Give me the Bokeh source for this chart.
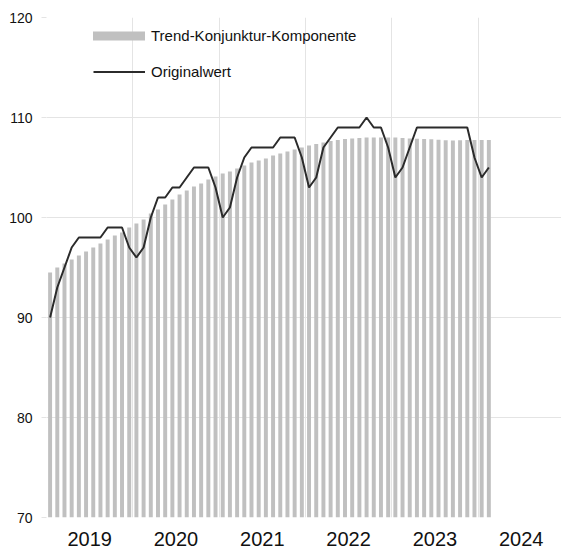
from bokeh.plotting import figure
from bokeh.models import FixedTicker, Legend, LegendItem, ColumnDataSource, Range1d
from bokeh.embed import file_html
from bokeh.resources import INLINE

# ---- data (monthly, Jan 2019 .. Feb 2024) ----
years = ["2019", "2020", "2021", "2022", "2023", "2024"]
trend = [
    94.5, 95.0, 95.4, 95.8, 96.2, 96.6, 97.0, 97.4, 97.8, 98.2, 98.5, 99.0,
    99.4, 99.8, 100.4, 100.8, 101.3, 101.8, 102.3, 102.7, 103.1, 103.4, 103.8, 104.1,
    104.4, 104.6, 104.9, 105.2, 105.5, 105.7, 105.9, 106.2, 106.4, 106.6, 106.8, 107.0,
    107.2, 107.35, 107.5, 107.65, 107.75, 107.85, 107.9, 107.95, 108.0, 108.0, 108.0, 108.0,
    108.0, 107.95, 107.9, 107.87, 107.85, 107.83, 107.77, 107.73, 107.7, 107.73, 107.75, 107.75,
    107.75, 107.75,
]
original = [
    90, 93, 95, 97, 98, 98, 98, 98, 99, 99, 99, 97,
    96, 97, 100, 102, 102, 103, 103, 104, 105, 105, 105, 103,
    100, 101, 104, 106, 107, 107, 107, 107, 108, 108, 108, 106,
    103, 104, 107, 108, 109, 109, 109, 109, 110, 109, 109, 107,
    104, 105, 107, 109, 109, 109, 109, 109, 109, 109, 109, 106,
    104, 105,
]
year_starts = [0, 12, 24, 36, 48, 60]
year_mids = [6, 18, 30, 42, 54, 66]
y_ticks = [70, 80, 90, 100, 110, 120]

x = [i + 0.5 for i in range(len(trend))]
src = ColumnDataSource(dict(x=x, trend=trend, original=original))

FONT = "Liberation Sans"
GRID = "#e4e4e4"
TEXT = "#111111"

p = figure(frame_width=515, frame_height=500, output_backend="svg", toolbar_location=None,
           x_range=Range1d(0, 71.6), y_range=Range1d(70, 120),
           min_border_left=46, min_border_right=0, min_border_top=17, min_border_bottom=0)
p.outline_line_color = None
p.background_fill_color = "white"

bars = p.vbar(x="x", top="trend", bottom=70, width=0.55, source=src,
              fill_color="#c0c0c0", line_color=None)
line = p.line(x="x", y="original", source=src, line_color="#2b2b2b", line_width=2)

# axes
p.xaxis.ticker = FixedTicker(ticks=year_mids)
p.xaxis.major_label_overrides = {m: y for m, y in zip(year_mids, years)}
p.xaxis.axis_line_color = None
p.xaxis.major_tick_line_color = None
p.xaxis.minor_tick_line_color = None
p.xaxis.major_label_standoff = 8
p.xaxis.major_label_text_font = FONT
p.xaxis.major_label_text_font_size = "20px"
p.xaxis.major_label_text_color = TEXT

p.yaxis.ticker = FixedTicker(ticks=y_ticks)
p.yaxis.axis_line_color = None
p.yaxis.major_tick_line_color = GRID
p.yaxis.major_tick_out = 5
p.yaxis.major_tick_in = 0
p.yaxis.minor_tick_line_color = None
p.yaxis.major_label_standoff = 9
p.yaxis.major_label_text_font = FONT
p.yaxis.major_label_text_font_size = "14px"
p.yaxis.major_label_text_color = TEXT

p.xgrid.ticker = FixedTicker(ticks=year_starts)
p.xgrid.grid_line_color = GRID
p.ygrid.grid_line_color = GRID

common = dict(padding=0, margin=0, border_line_color=None, background_fill_alpha=0,
              label_height=20, label_text_font=FONT, label_text_font_size="15px",
              label_text_color=TEXT)
legend_bar = Legend(items=[LegendItem(label="Trend-Konjunktur-Komponente", renderers=[bars])],
                    location=(40, 472), glyph_width=65, glyph_height=11, label_standoff=0,
                    **common)
legend_line = Legend(items=[LegendItem(label="Originalwert", renderers=[line])],
                     location=(47, 436), glyph_width=52, glyph_height=9, label_standoff=6,
                     **common)
p.add_layout(legend_bar)
p.add_layout(legend_line)

open("out.html", "w").write(file_html(p, INLINE))
